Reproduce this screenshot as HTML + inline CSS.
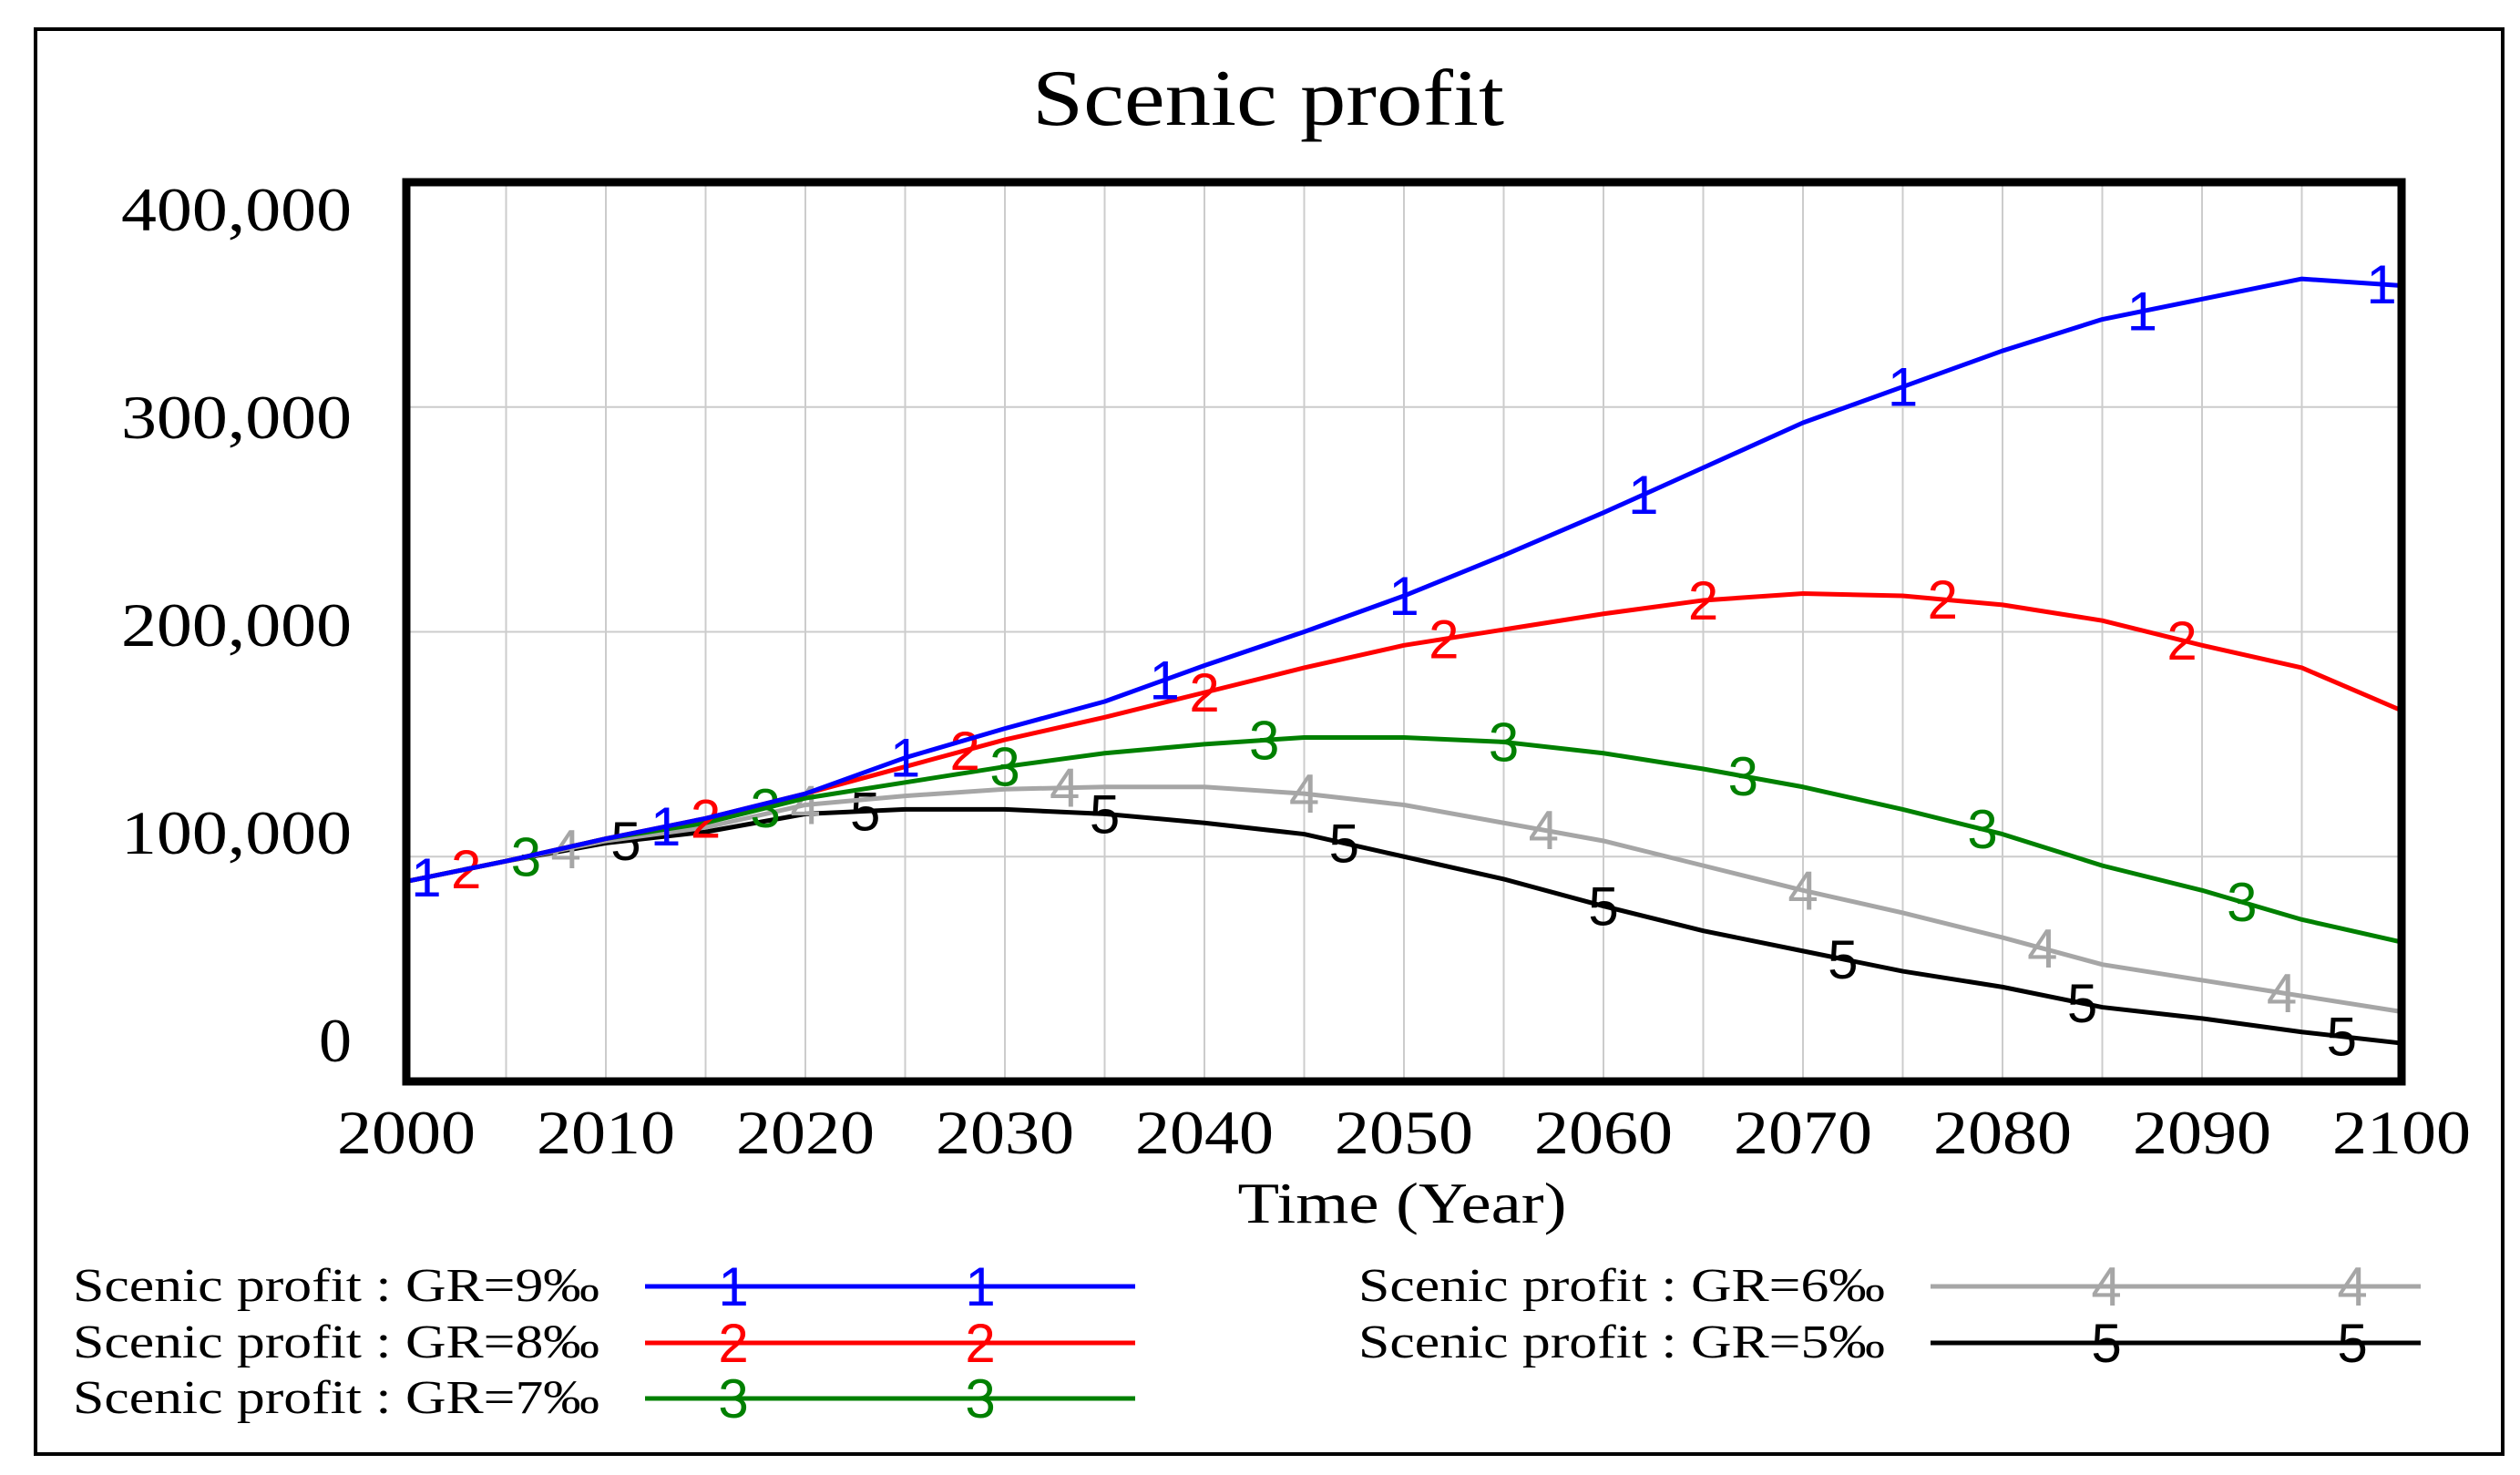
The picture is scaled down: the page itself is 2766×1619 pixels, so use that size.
<!DOCTYPE html>
<html><head><meta charset="utf-8"><style>
html,body{margin:0;padding:0;background:#fff;}
svg{display:block;}
</style></head><body>
<svg id="chart" width="2766" height="1619" viewBox="0 0 2766 1619" xmlns="http://www.w3.org/2000/svg" font-family="Liberation Serif, serif">
<rect x="39" y="32" width="2708" height="1564" fill="#fff" stroke="#000" stroke-width="4"/>
<text x="1392" y="137" font-size="88" text-anchor="middle" textLength="518" lengthAdjust="spacingAndGlyphs">Scenic profit</text>
<g id="grid"></g>
<g id="ylabels"></g>
<g id="xlabels"></g>
<g id="series"></g>
<rect x="446" y="200" width="2190" height="987" fill="none" stroke="#000" stroke-width="9"/>
<text x="1539" y="1342" font-size="64" text-anchor="middle" textLength="361" lengthAdjust="spacingAndGlyphs">Time (Year)</text>
<g id="legend"></g>
</svg>
<script>
const years = [2000,2005,2010,2015,2020,2025,2030,2035,2040,2045,2050,2055,2060,2065,2070,2075,2080,2085,2090,2095,2100];
const gr9 = [89000,98000,108000,117000,128000,144000,157000,169000,185000,200000,216000,234000,253000,273000,293000,309000,325000,339000,348000,357000,354000];
const gr8 = [89000,98000,108000,117000,128000,140000,152000,162000,173000,184000,194000,201000,208000,214000,217000,216000,212000,205000,194000,184000,165000];
const gr7 = [89000,98000,108000,115000,126000,133000,140000,146000,150000,153000,153000,151000,146000,139000,131000,121000,110000,96000,85000,72000,62000];
const gr6 = [89000,98000,107000,113000,123000,127000,130000,131000,131000,128000,123000,115000,107000,96000,85000,75000,64000,52000,45000,38000,31000];
const gr5 = [89000,98000,106000,111000,119000,121000,121000,119000,115000,110000,100000,90000,78000,67000,58000,49000,42000,33000,28000,22000,17000];
const seriesNames = ["Scenic profit : GR=9‰","Scenic profit : GR=8‰","Scenic profit : GR=7‰","Scenic profit : GR=6‰","Scenic profit : GR=5‰"];
const markerYears = [
 [2001,2013,2025,2038,2050,2062,2075,2087,2099],
 [2003,2015,2028,2040,2052,2065,2077,2089],
 [2006,2018,2030,2043,2055,2067,2079,2092],
 [2008,2020,2033,2045,2057,2070,2082,2094],
 [2011,2023,2035,2047,2060,2072,2084,2097]];
const yTicks = [0,100000,200000,300000,400000];
const yTickLabels = ["0","100,000","200,000","300,000","400,000"];
const xTicks = [2000,2010,2020,2030,2040,2050,2060,2070,2080,2090,2100];

const NS="http://www.w3.org/2000/svg";
const L=446,R=2636,T=200,B=1187;
const xs=y=>L+(y-2000)/100*(R-L);
const ys=v=>B-v/400000*(B-T);
function mk(tag,attrs,parent,txt){const e=document.createElementNS(NS,tag);for(const k in attrs)e.setAttribute(k,attrs[k]);if(txt!==undefined)e.textContent=txt;parent.appendChild(e);return e;}
const colors=["#0000ff","#ff0000","#008000","#a6a6a6","#000000"];
const data=[gr9,gr8,gr7,gr6,gr5];
const grid=document.getElementById('grid');
for(let y=2005;y<2100;y+=5){const e=mk('line',{x1:xs(y),x2:xs(y),y1:T,y2:B,stroke:'#cccccc','stroke-width':2},grid);

}
yTicks.forEach(v=>{if(v>0&&v<400000){const e=mk('line',{x1:L,x2:R,y1:ys(v),y2:ys(v),stroke:'#cccccc','stroke-width':2},grid);

}});
const yl=document.getElementById('ylabels');
yTicks.forEach((v,i)=>{const ty=1165-i*228;const w=yTickLabels[i].length>1?253:36;
const e=mk('text',{x:386,y:ty,'font-size':68,'text-anchor':'end',textLength:w,lengthAdjust:'spacingAndGlyphs'},yl,yTickLabels[i]);

});
const xl=document.getElementById('xlabels');
xTicks.forEach(y=>{const e=mk('text',{x:xs(y),y:1266,'font-size':68,'text-anchor':'middle',textLength:152,lengthAdjust:'spacingAndGlyphs'},xl,String(y));

});
function interp(arr,yr){for(let i=0;i<years.length-1;i++){if(yr<=years[i+1]){const t=(yr-years[i])/(years[i+1]-years[i]);return arr[i]+t*(arr[i+1]-arr[i]);}}return arr[arr.length-1];}
const sg=document.getElementById('series');
for(let s=4;s>=0;s--){
 const g=mk('g',{},sg);
 
 
 const pts=years.map((y,i)=>xs(y)+','+ys(data[s][i])).join(' ');
 const p=mk('polyline',{points:pts,fill:'none',stroke:colors[s],'stroke-width':5,'stroke-linejoin':'round'},g);
 
 
 markerYears[s].forEach(my=>{const t=mk('text',{x:xs(my),y:ys(interp(data[s],my))+21,'font-size':60,'font-family':'Liberation Sans, sans-serif','text-anchor':'middle',fill:colors[s]},g,String(s+1));
 
 });
}
const lg=document.getElementById('legend');
const pos=[[80,1412,708,97,368],[80,1474,708,97,368],[80,1535,708,97,368],[1491,1412,2119,193,463],[1491,1474,2119,193,463]];
for(let s=0;s<5;s++){
 const [tx,ty,lx,m1,m2]=pos[s];
 const g=mk('g',{},lg);
 
 
 const t=mk('text',{x:tx,y:ty+16,'font-size':52,textLength:578,lengthAdjust:'spacingAndGlyphs'},g,seriesNames[s]);
 
 
 const l=mk('line',{x1:lx,x2:lx+538,y1:ty,y2:ty,stroke:colors[s],'stroke-width':5},g);
 
 
 [m1,m2].forEach(dx=>{const m=mk('text',{x:lx+dx,y:ty+21,'font-size':60,'font-family':'Liberation Sans, sans-serif','text-anchor':'middle',fill:colors[s]},g,String(s+1));
 
 });
}
</script>
</body></html>
